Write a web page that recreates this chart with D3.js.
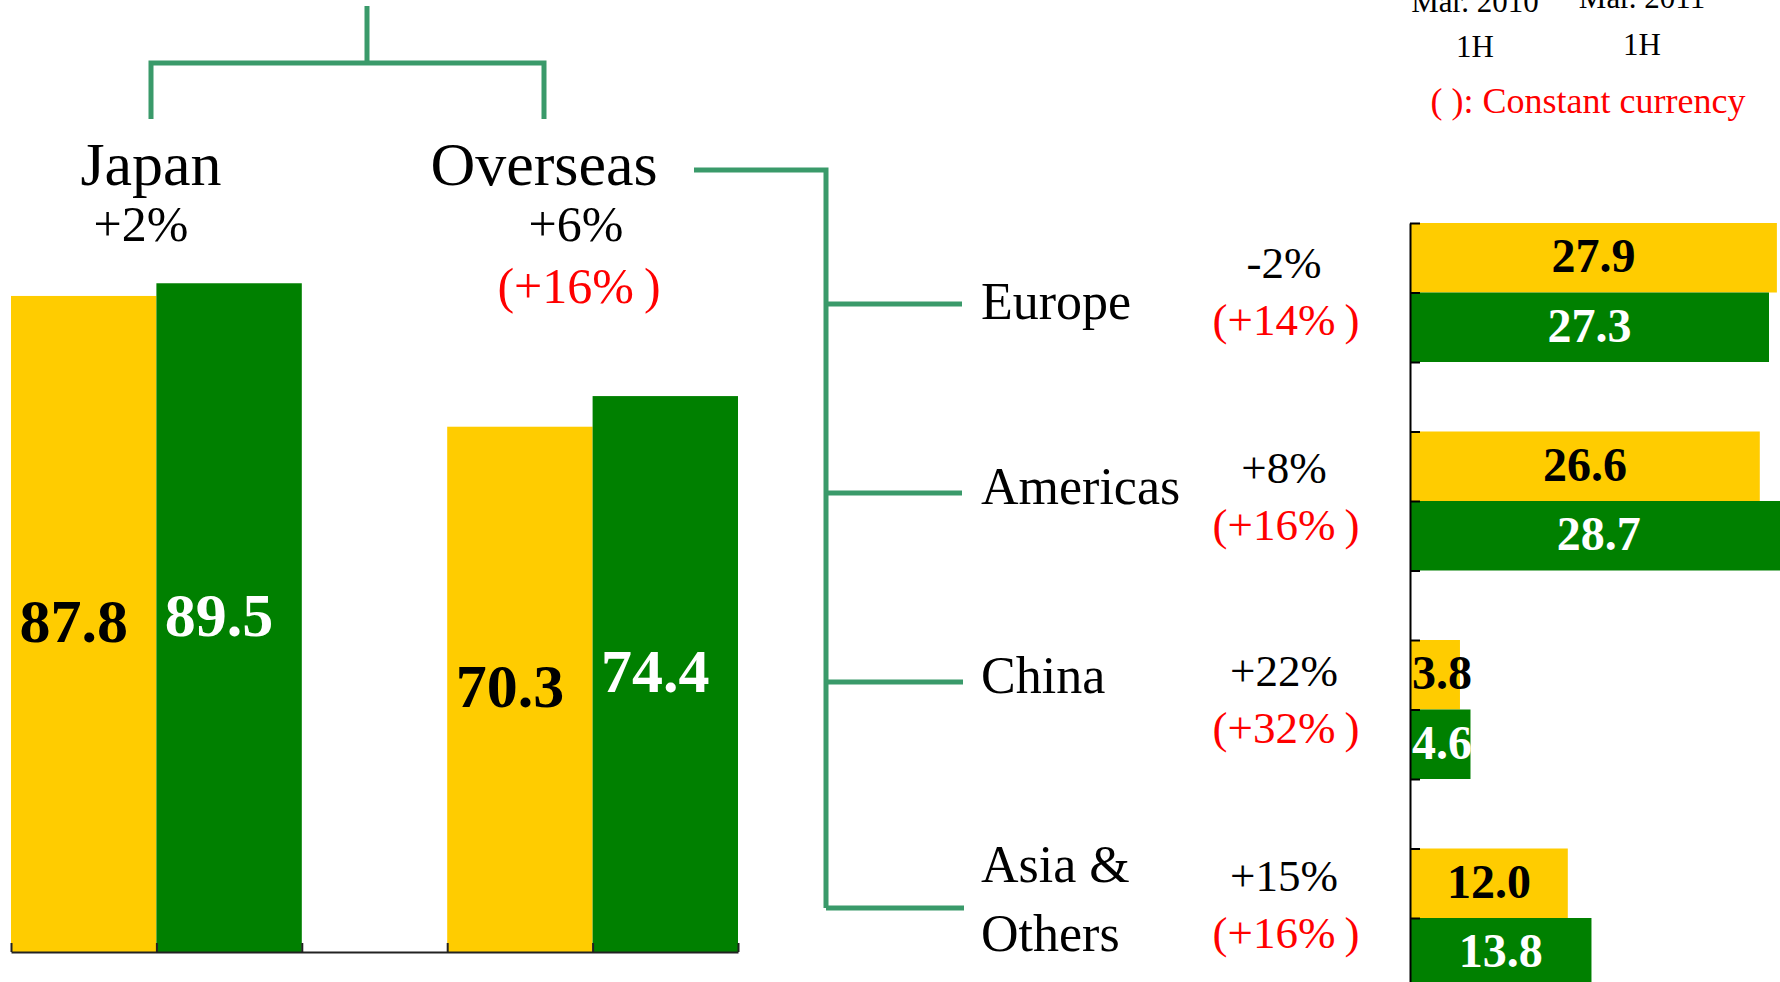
<!DOCTYPE html>
<html>
<head>
<meta charset="utf-8">
<script src="https://cdn.jsdelivr.net/npm/d3@7"></script>
<style>
  body { margin: 0; background: #fff; }
  svg { display: block; }
  text { font-family: "Liberation Serif", "Times New Roman", serif; }
</style>
</head>
<body>
<svg id="chart" width="1780" height="982"></svg>
<script>
// --- data ---
const seriesKeys = ["Mar. 2010 1H", "Mar. 2011 1H"];
const seriesColors = ["#FFCC00", "#008000"];
const seriesLabelColors = ["#000", "#fff"];

const leftGroups = ["Japan", "Overseas"];
const left2010 = [87.8, 70.3];
const left2011 = [89.5, 74.4];
const leftChange = ["+2%", "+6%"];
const leftConstant = ["", "(+16%\u2009)"];

const regions = ["Europe", "Americas", "China", "Asia & Others"];
const region2010 = [27.9, 26.6, 3.8, 12.0];
const region2011 = [27.3, 28.7, 4.6, 13.8];
const regionChange = ["-2%", "+8%", "+22%", "+15%"];
const regionConstant = ["(+14%\u2009)", "(+16%\u2009)", "(+32%\u2009)", "(+16%\u2009)"];

const legendLines = [["Mar. 2010", "1H"], ["Mar. 2011", "1H"]];
const noteText = "( ): Constant currency";

// --- layout ---
const svg = d3.select("#chart");
const fmt = d3.format(".1f");
const connector = "#3A9A6A";
const red = "#FF0000";

// left chart scales
const xL = d3.scaleBand().domain(leftGroups).range([11, 738]).paddingInner(1 / 3).paddingOuter(0);
const xLs = d3.scaleBand().domain(seriesKeys).range([0, xL.bandwidth()]);
const yL = d3.scaleLinear().domain([0, 90]).range([952, 952 - 90 * 7.472]);

const leftRows = [];
leftGroups.forEach((g, i) => {
  [left2010[i], left2011[i]].forEach((v, s) => leftRows.push({ g, s, v }));
});

svg.append("g")
  .selectAll("rect")
  .data(leftRows)
  .join("rect")
  .attr("x", d => xL(d.g) + xLs(seriesKeys[d.s]))
  .attr("y", d => yL(d.v))
  .attr("width", xLs.bandwidth())
  .attr("height", d => yL(0) - yL(d.v))
  .attr("fill", d => seriesColors[d.s]);

svg.append("g")
  .selectAll("text")
  .data(leftRows)
  .join("text")
  .attr("x", d => xL(d.g) + xLs(seriesKeys[d.s]) + xLs.bandwidth() / 2 - 10)
  .attr("y", d => (yL(d.v) + yL(0)) / 2)
  .attr("dy", "0.29em")
  .attr("text-anchor", "middle")
  .attr("font-size", 62)
  .attr("font-weight", "bold")
  .attr("fill", d => seriesLabelColors[d.s])
  .text(d => fmt(d.v));

// left axis: ticks at every slot edge
const slotL = d3.scaleLinear().domain([0, 5]).range(xL.range());
const axisL = svg.append("g")
  .attr("transform", `translate(0,${yL(0)})`)
  .call(d3.axisBottom(slotL).tickValues(d3.range(6)).tickSize(-9).tickSizeOuter(0).tickFormat(""));
axisL.selectAll("path, line").attr("stroke", "#222").attr("stroke-width", 2);

// group labels
const leftLabelX = [151, 544];
const leftChangeX = [141, 576];
svg.append("g")
  .selectAll("text")
  .data(leftGroups)
  .join("text")
  .attr("x", (d, i) => leftLabelX[i])
  .attr("y", 185)
  .attr("text-anchor", "middle")
  .attr("font-size", 62)
  .text(d => d);

svg.append("g")
  .selectAll("text")
  .data(leftChange)
  .join("text")
  .attr("x", (d, i) => leftChangeX[i])
  .attr("y", 241)
  .attr("text-anchor", "middle")
  .attr("font-size", 50)
  .text(d => d);

svg.append("g")
  .selectAll("text")
  .data(leftConstant)
  .join("text")
  .attr("x", (d, i) => leftChangeX[i] + 3)
  .attr("y", 303)
  .attr("text-anchor", "middle")
  .attr("font-size", 50)
  .attr("fill", red)
  .text(d => d);

// top bracket
const bracket = svg.append("g")
  .attr("fill", "none")
  .attr("stroke", connector)
  .attr("stroke-width", 5);
bracket.append("path")
  .attr("d", `M367,6V63M${leftLabelX[0]},119V63H${leftLabelX[1]}V119`);

// right chart scales
const yR = d3.scaleBand().domain(regions).range([223, 987.5]).paddingInner(1 / 3).paddingOuter(0);
const yRs = d3.scaleBand().domain(seriesKeys).range([0, yR.bandwidth()]);
const xR = d3.scaleLinear().domain([0, 30]).range([1410, 1410 + 30 * 13.15]);

const rightRows = [];
regions.forEach((r, i) => {
  [region2010[i], region2011[i]].forEach((v, s) => rightRows.push({ r, s, v }));
});

svg.append("g")
  .selectAll("rect")
  .data(rightRows)
  .join("rect")
  .attr("x", xR(0))
  .attr("y", d => yR(d.r) + yRs(seriesKeys[d.s]))
  .attr("width", d => xR(d.v) - xR(0))
  .attr("height", yRs.bandwidth())
  .attr("fill", d => seriesColors[d.s]);

svg.append("g")
  .selectAll("text")
  .data(rightRows)
  .join("text")
  .attr("y", d => yR(d.r) + yRs(seriesKeys[d.s]) + yRs.bandwidth() / 2)
  .attr("dy", "0.3em")
  .attr("text-anchor", "middle")
  .attr("font-size", 48)
  .attr("font-weight", "bold")
  .attr("fill", d => seriesLabelColors[d.s])
  .text(d => fmt(d.v))
  .attr("x", function(d) {
    const w = this.getComputedTextLength();
    return Math.max((xR(0) + xR(d.v)) / 2, xR(0) + w / 2 + 2);
  });

const slotR = d3.scaleLinear().domain([0, 11]).range(yR.range());
const axisR = svg.append("g")
  .attr("transform", `translate(${xR(0)},0)`)
  .call(d3.axisLeft(slotR).tickValues(d3.range(11)).tickSize(-10).tickSizeOuter(0).tickFormat(""));
axisR.selectAll("path, line").attr("stroke", "#000").attr("stroke-width", 2);

// region tree
const trunkX = 826;
const branchY = [304, 493, 682, 908];
const branchEnd = [962, 962, 963, 964];
const tree = svg.append("g")
  .attr("fill", "none")
  .attr("stroke", connector)
  .attr("stroke-width", 5);
tree.append("path").attr("d", `M694,170H${trunkX}V${branchY[3]}`);
tree.selectAll("line")
  .data(branchY)
  .join("line")
  .attr("x1", trunkX)
  .attr("x2", (d, i) => branchEnd[i])
  .attr("y1", d => d)
  .attr("y2", d => d);

const regionLabelY = [319, 504, 693, 882];
svg.append("g")
  .selectAll("text")
  .data(regions)
  .join("text")
  .attr("x", 981)
  .attr("y", (d, i) => regionLabelY[i])
  .attr("font-size", 52)
  .each(function(d) {
    const parts = d === "Asia & Others" ? ["Asia &", "Others"] : [d];
    d3.select(this).selectAll("tspan")
      .data(parts)
      .join("tspan")
      .attr("x", 981)
      .attr("dy", (p, j) => j === 0 ? 0 : 69)
      .text(p => p);
  });

const changeY = [278, 483, 686, 891];
svg.append("g")
  .selectAll("text")
  .data(regionChange)
  .join("text")
  .attr("x", 1284)
  .attr("y", (d, i) => changeY[i])
  .attr("text-anchor", "middle")
  .attr("font-size", 45)
  .text(d => d);

svg.append("g")
  .selectAll("text")
  .data(regionConstant)
  .join("text")
  .attr("x", 1286)
  .attr("y", (d, i) => changeY[i] + 57)
  .attr("text-anchor", "middle")
  .attr("font-size", 45)
  .attr("fill", red)
  .text(d => d);

// legend header (partly cut at top)
const legendX = [1475, 1642];
const legendY = [[12, 57], [8, 55]];
legendLines.forEach((lines, i) => {
  svg.append("g")
    .selectAll("text")
    .data(lines)
    .join("text")
    .attr("x", legendX[i])
    .attr("y", (d, j) => legendY[i][j])
    .attr("text-anchor", "middle")
    .attr("font-size", 31)
    .text(d => d);
});

svg.append("text")
  .attr("x", 1588)
  .attr("y", 113)
  .attr("text-anchor", "middle")
  .attr("font-size", 36)
  .attr("fill", red)
  .text(noteText);
</script>
</body>
</html>
